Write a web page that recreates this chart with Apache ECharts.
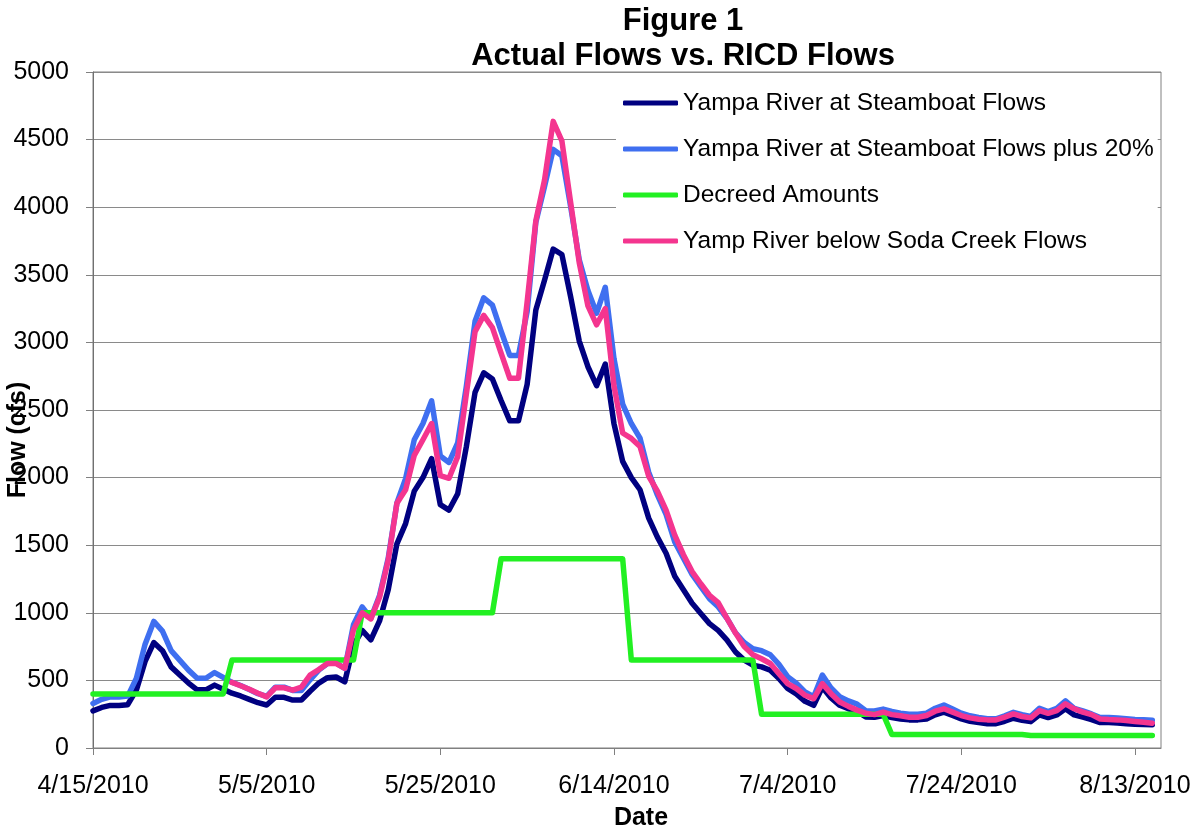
<!DOCTYPE html>
<html>
<head>
<meta charset="utf-8">
<style>
  html, body { margin: 0; padding: 0; background: #fff; }
  #chart { width: 1199px; height: 830px; }
</style>
<script src="https://cdn.jsdelivr.net/npm/echarts@6/dist/echarts.min.js"></script>
</head>
<body>
<div id="chart"></div>
<script>
// ---- Data (daily values, day 0 = 4/15/2010) ----
const seriesNames = [
  'Yampa River at Steamboat Flows',
  'Yampa River at Steamboat Flows plus 20%',
  'Decreed Amounts',
  'Yamp River below Soda Creek Flows'
];

const xTickLabels = ['4/15/2010', '5/5/2010', '5/25/2010', '6/14/2010', '7/4/2010', '7/24/2010', '8/13/2010'];
const yTickLabels = ['0', '500', '1000', '1500', '2000', '2500', '3000', '3500', '4000', '4500', '5000'];

// Yampa River at Steamboat Flows (d0..d122)
const yampa = [
  275, 300, 315, 315, 320, 430, 640, 780, 720, 600,
  540, 480, 430, 430, 465, 435, 405, 385, 360, 335,
  318, 375, 375, 355, 355, 420, 480, 520, 525, 490,
  760, 870, 800, 940, 1170, 1510, 1660, 1900, 2000, 2140,
  1800, 1760, 1880, 2230, 2630, 2775, 2730, 2570, 2420, 2420,
  2690, 3240, 3460, 3690, 3650, 3340, 3010, 2820, 2680, 2840,
  2400, 2120, 2000, 1910, 1700, 1560, 1440, 1270, 1170, 1070,
  995, 920, 870, 800, 710, 650, 612, 600, 575, 515,
  440, 400, 345, 316, 450, 370, 316, 290, 270, 230,
  228, 240, 225, 215, 208, 208, 215, 245, 265, 240,
  215, 198, 188, 180, 180, 198, 220, 205, 195, 245,
  225, 245, 290, 245, 228, 210, 188, 188, 185, 180,
  176, 174, 172
];

// Yampa River at Steamboat Flows plus 20% (d0..d122)
const yampaPlus20 = [
  330, 360, 378, 378, 384, 516, 768, 936, 864, 720,
  648, 576, 516, 516, 558, 522, 486, 462, 432, 402,
  382, 450, 450, 426, 426, 504, 576, 624, 630, 588,
  912, 1044, 960, 1128, 1404, 1812, 1992, 2280, 2400, 2568,
  2160, 2112, 2256, 2676, 3156, 3330, 3276, 3084, 2904, 2904,
  3228, 3888, 4152, 4428, 4380, 4008, 3612, 3384, 3216, 3408,
  2880, 2544, 2400, 2292, 2040, 1872, 1728, 1524, 1404, 1284,
  1194, 1104, 1044, 960, 852, 780, 734, 720, 690, 618,
  528, 480, 414, 379, 540, 444, 379, 348, 324, 276,
  274, 288, 270, 258, 250, 250, 258, 294, 318, 288,
  258, 238, 226, 216, 216, 238, 264, 246, 234, 294,
  270, 294, 348, 294, 274, 252, 226, 226, 222, 216,
  211, 209, 206
];

// Decreed Amounts (d0..d122)
const decreed = [
  400, 400, 400, 400, 400, 400, 400, 400, 400, 400,
  400, 400, 400, 400, 400, 400, 650, 650, 650, 650,
  650, 650, 650, 650, 650, 650, 650, 650, 650, 650,
  650, 1000, 1000, 1000, 1000, 1000, 1000, 1000, 1000, 1000,
  1000, 1000, 1000, 1000, 1000, 1000, 1000, 1400, 1400, 1400,
  1400, 1400, 1400, 1400, 1400, 1400, 1400, 1400, 1400, 1400,
  1400, 1400, 650, 650, 650, 650, 650, 650, 650, 650,
  650, 650, 650, 650, 650, 650, 650, 250, 250, 250,
  250, 250, 250, 250, 250, 250, 250, 250, 250, 250,
  250, 250, 100, 100, 100, 100, 100, 100, 100, 100,
  100, 100, 100, 100, 100, 100, 100, 100, 92, 92,
  92, 92, 92, 92, 92, 92, 92, 92, 92, 92,
  92, 92, 92
];

// Yamp River below Soda Creek Flows (starts d16 = 5/1/2010, ends d122)
const sodaCreekStartDay = 16;
const sodaCreek = [
  485, 460, 435, 405,
  378, 445, 445, 428, 450, 540, 580, 625, 625, 590,
  875, 1000, 955, 1115, 1390, 1810, 1910, 2165, 2280, 2400,
  2015, 1995, 2155, 2620, 3080, 3200, 3110, 2920, 2735, 2735,
  3300, 3900, 4200, 4635, 4490, 4040, 3590, 3270, 3130, 3250,
  2680, 2330, 2290, 2230, 2010, 1900, 1760, 1575, 1430, 1305,
  1215, 1130, 1075, 960, 850, 750, 690, 660, 625, 550,
  476, 440, 390, 365, 476, 402, 340, 308, 280, 257,
  247, 265, 247, 238, 228, 228, 240, 272, 290, 265,
  240, 223, 213, 208, 208, 228, 252, 233, 223, 277,
  257, 277, 327, 290, 265, 247, 215, 210, 208, 203,
  196, 190, 183
];

const colors = ['#000080', '#3f6ff0', '#22f022', '#f4358f'];
const FONT = '"Liberation Sans", Arial, Helvetica, sans-serif';

const toPairs = (arr, start) => arr.map((v, i) => [i + (start || 0), v]);

const chart = echarts.init(document.getElementById('chart'), null, { renderer: 'canvas' });

const lineSeries = (name, data, color) => ({
  name: name,
  type: 'line',
  data: data,
  showSymbol: false,
  symbol: 'none',
  smooth: false,
  connectNulls: false,
  lineStyle: { color: color, width: 5.5, join: 'round', cap: 'round' },
  itemStyle: { color: color },
  emphasis: { disabled: true },
  animation: false
});

chart.setOption({
  animation: false,
  backgroundColor: '#ffffff',
  textStyle: { fontFamily: FONT },
  grid: {
    left: 93, right: 38, top: 72, bottom: 82,
    show: true, borderColor: '#808080', borderWidth: 1,
    containLabel: false, outerBoundsMode: 'none'
  },
  graphic: [
    { type: 'text', x: 683, y: 21, z: 10,
      style: { text: 'Figure 1', font: 'bold 31px ' + FONT, fill: '#000', textAlign: 'center', textVerticalAlign: 'middle' } },
    { type: 'text', x: 683, y: 56, z: 10,
      style: { text: 'Actual Flows vs. RICD Flows', font: 'bold 31px ' + FONT, fill: '#000', textAlign: 'center', textVerticalAlign: 'middle' } },
    { type: 'text', x: 641, y: 818, z: 10,
      style: { text: 'Date', font: 'bold 25px ' + FONT, fill: '#000', textAlign: 'center', textVerticalAlign: 'middle' } },
    { type: 'text', x: 18, y: 440, rotation: Math.PI / 2, z: 10,
      style: { text: 'Flow (cfs)', font: 'bold 25px ' + FONT, fill: '#000', textAlign: 'center', textVerticalAlign: 'middle' } }
  ],
  legend: {
    orient: 'vertical',
    left: 616,
    top: 82,
    padding: [8, 4, 12, 7],
    backgroundColor: '#ffffff',
    itemWidth: 55,
    itemHeight: 5,
    itemGap: 20,
    icon: 'roundRect',
    selectedMode: false,
    textStyle: { fontSize: 24.5, fontFamily: FONT, color: '#000', lineHeight: 26 },
    data: seriesNames
  },
  xAxis: {
    type: 'value',
    min: 0,
    max: 123,
    interval: 20,
    axisLine: { show: true, lineStyle: { color: '#808080', width: 1 } },
    axisTick: { show: true, length: 7, lineStyle: { color: '#808080' } },
    splitLine: { show: false },
    axisLabel: {
      fontSize: 25, fontFamily: FONT, color: '#000', margin: 26,
      showMaxLabel: false,
      formatter: v => (v % 20 === 0 ? (xTickLabels[v / 20] || '') : '')
    }
  },
  yAxis: {
    type: 'value',
    min: 0,
    max: 5000,
    interval: 500,
    axisLine: { show: true, lineStyle: { color: '#707070', width: 1 } },
    axisTick: { show: true, length: 7, lineStyle: { color: '#808080' } },
    splitLine: { show: true, lineStyle: { color: '#8a8a8a', width: 1 } },
    axisLabel: {
      fontSize: 25, fontFamily: FONT, color: '#000', margin: 24,
      formatter: v => yTickLabels[Math.round(v / 500)]
    }
  },
  series: [
    lineSeries(seriesNames[0], toPairs(yampa, 0), colors[0]),
    lineSeries(seriesNames[1], toPairs(yampaPlus20, 0), colors[1]),
    lineSeries(seriesNames[2], toPairs(decreed, 0), colors[2]),
    lineSeries(seriesNames[3], toPairs(sodaCreek, sodaCreekStartDay), colors[3])
  ]
});
</script>
</body>
</html>
